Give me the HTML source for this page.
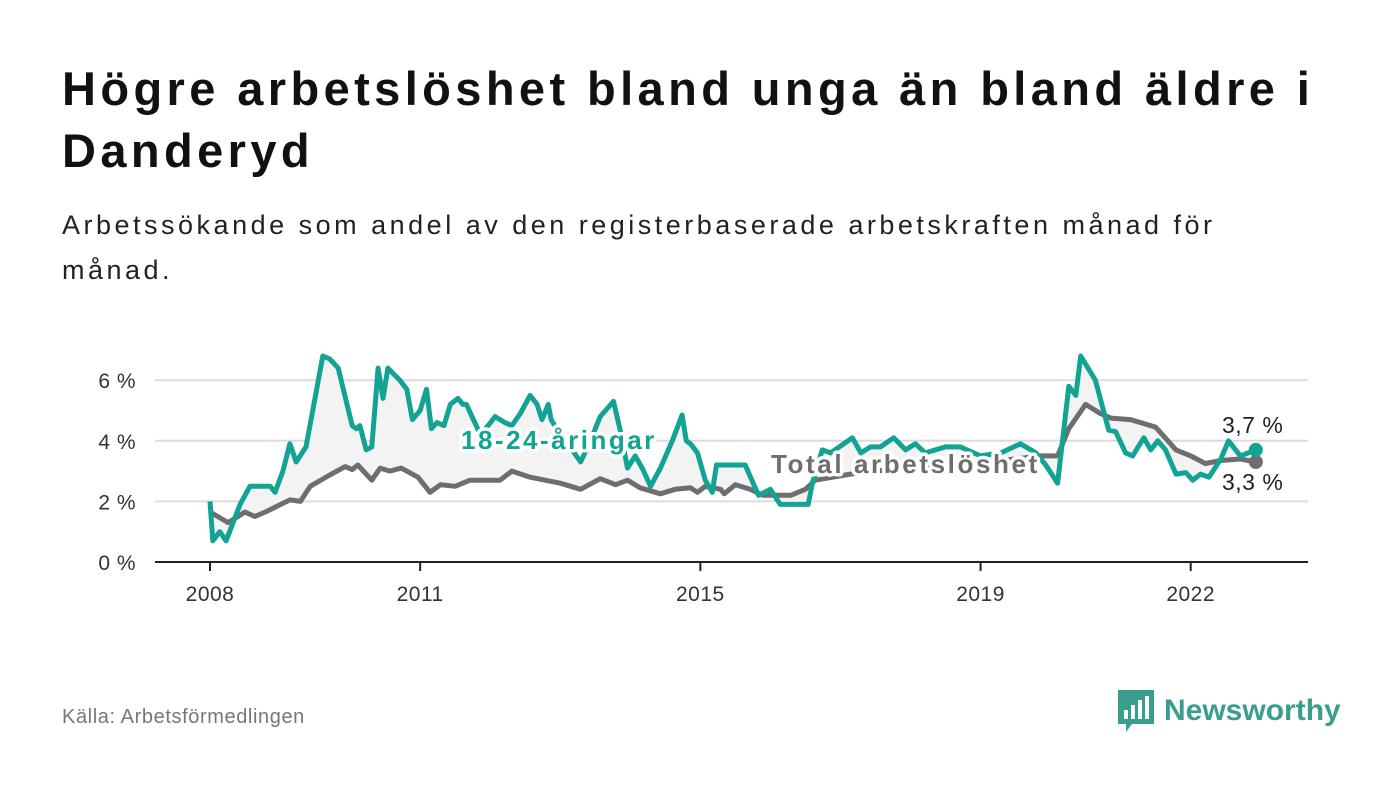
<!DOCTYPE html>
<html><head><meta charset="utf-8"><style>
body{margin:0;width:1400px;height:794px;background:#fff;font-family:"Liberation Sans","DejaVu Sans",sans-serif;overflow:hidden;position:relative}
h1{position:absolute;left:62px;top:58px;margin:0;font-size:47px;line-height:62px;font-weight:bold;color:#111;width:1320px;letter-spacing:4.4px}
.sub{position:absolute;left:62px;top:203px;font-size:27px;line-height:45px;color:#222;width:1250px;letter-spacing:3.5px}
.src{position:absolute;left:62px;top:706px;font-size:20px;color:#777;letter-spacing:0.6px}
.logo{position:absolute;left:1118px;top:690px;display:flex;align-items:center;gap:10px;color:#3a9e8f;font-size:30px;font-weight:bold}
</style></head><body>
<h1>Högre arbetslöshet bland unga än bland äldre i Danderyd</h1>
<div class="sub">Arbetssökande som andel av den registerbaserade arbetskraften månad för månad.</div>
<svg id="chart" width="1400" height="794" style="position:absolute;left:0;top:0"></svg>
<div class="src">Källa: Arbetsförmedlingen</div>
<div class="logo"><svg width="36" height="42" viewBox="0 0 36 42"><path d="M0 0h36v34H14l-6 8v-8H0z" fill="#3a9e8f"/><rect x="6" y="20" width="4" height="9" fill="#fff"/><rect x="13" y="15" width="4" height="14" fill="#fff"/><rect x="20" y="10" width="4" height="19" fill="#fff"/><rect x="27" y="6" width="4" height="23" fill="#fff"/></svg><span>Newsworthy</span></div>
<script>
const youthT=[0,.04,.14,.23,.43,.57,.86,.93,1.04,1.14,1.23,1.37,1.61,1.71,1.83,2.03,2.09,2.14,2.23,2.31,2.4,2.47,2.54,2.71,2.81,2.89,3.0,3.09,3.16,3.24,3.34,3.43,3.54,3.61,3.66,3.76,3.86,3.97,4.07,4.21,4.31,4.43,4.57,4.67,4.74,4.83,4.87,5.0,5.14,5.29,5.43,5.57,5.76,5.86,5.96,6.07,6.17,6.29,6.43,6.6,6.74,6.8,6.86,6.96,7.07,7.17,7.23,7.64,7.83,8.0,8.14,8.54,8.6,8.74,8.86,9.17,9.29,9.43,9.57,9.76,9.93,10.07,10.21,10.5,10.71,11.0,11.29,11.57,11.79,11.93,12.1,12.26,12.36,12.43,12.64,12.83,12.93,13.07,13.17,13.33,13.43,13.53,13.64,13.79,13.93,14.03,14.14,14.26,14.43,14.54,14.71,14.93];
const youthV=[2.0,0.7,1.0,0.7,1.9,2.5,2.5,2.3,3.0,3.9,3.3,3.8,6.8,6.7,6.4,4.5,4.4,4.5,3.7,3.8,6.4,5.4,6.4,6.0,5.7,4.7,5.0,5.7,4.4,4.6,4.5,5.2,5.4,5.2,5.2,4.7,4.2,4.5,4.8,4.6,4.5,4.9,5.5,5.2,4.7,5.2,4.7,4.2,3.8,3.3,4.0,4.8,5.3,4.3,3.1,3.5,3.1,2.5,3.1,4.0,4.85,4.0,3.9,3.6,2.7,2.3,3.2,3.2,2.2,2.4,1.9,1.9,2.6,3.7,3.6,4.1,3.6,3.8,3.8,4.1,3.7,3.9,3.6,3.8,3.8,3.5,3.6,3.9,3.6,3.2,2.6,5.8,5.5,6.8,6.0,4.35,4.3,3.6,3.5,4.1,3.7,4.0,3.7,2.9,2.95,2.7,2.9,2.8,3.4,4.0,3.5,3.7];
const totalT=[0,.26,.5,.64,.79,1.14,1.29,1.43,1.71,1.93,2.03,2.11,2.31,2.43,2.57,2.73,2.97,3.14,3.29,3.5,3.71,4.14,4.31,4.57,5.0,5.29,5.57,5.79,5.96,6.14,6.43,6.64,6.86,6.96,7.07,7.29,7.34,7.5,7.71,7.89,8.29,8.5,8.64,9.14,9.5,10.0,10.5,11.0,11.5,11.86,12.1,12.26,12.5,12.71,12.86,13.14,13.5,13.79,14.0,14.21,14.43,14.71,14.93];
const totalV=[1.65,1.3,1.65,1.5,1.65,2.05,2.0,2.5,2.87,3.15,3.05,3.2,2.7,3.1,3.0,3.1,2.8,2.3,2.55,2.5,2.7,2.7,3.0,2.8,2.6,2.4,2.75,2.55,2.7,2.45,2.25,2.4,2.45,2.3,2.5,2.4,2.25,2.55,2.4,2.2,2.2,2.4,2.7,2.9,3.0,3.1,3.2,3.3,3.4,3.5,3.5,4.4,5.2,4.9,4.75,4.7,4.45,3.7,3.5,3.25,3.35,3.4,3.3];
const yTicks=[0,2,4,6];
const yTickLabels=["0 %","2 %","4 %","6 %"];
const xTicks=[2008,2011,2015,2019,2022];
const NS="http://www.w3.org/2000/svg";
const svg=document.getElementById('chart');
const X=t=>210+t*70.05;
const Xy=yr=>X(yr-2008);
const Y=v=>562-v*30.3;
function mk(tag,attrs,parent){const e=document.createElementNS(NS,tag);for(const k in attrs)e.setAttribute(k,attrs[k]);(parent||svg).appendChild(e);return e;}
yTicks.forEach((v,i)=>{
 if(v>0){const g=mk('line',{x1:155,x2:1308,y1:Y(v),y2:Y(v),stroke:'#dcdcdc','stroke-width':2});
 
 }
 const t=mk('text',{x:136,y:Y(v)+8,'text-anchor':'end','font-size':21,fill:'#333','letter-spacing':0.5});t.textContent=yTickLabels[i];
 
 
});
const ax=mk('line',{x1:155,x2:1308,y1:562,y2:562,stroke:'#222','stroke-width':2});


xTicks.forEach(yr=>{
 mk('line',{x1:Xy(yr),x2:Xy(yr),y1:562,y2:571,stroke:'#222','stroke-width':2});
 const t=mk('text',{x:Xy(yr),y:601,'text-anchor':'middle','font-size':21,fill:'#333','letter-spacing':0.5});t.textContent=yr;
 
 
});
const pts=(T,V)=>T.map((t,i)=>X(t).toFixed(1)+','+Y(V[i]).toFixed(1));
const area=mk('polygon',{points:pts(youthT,youthV).concat(pts(totalT,totalV).reverse()).join(' '),fill:'#f3f3f3'});


const lt=mk('polyline',{points:pts(totalT,totalV).join(' '),fill:'none',stroke:'#6e6e70','stroke-width':5,'stroke-linejoin':'round'});


const ly=mk('polyline',{points:pts(youthT,youthV).join(' '),fill:'none',stroke:'#12a394','stroke-width':5,'stroke-linejoin':'round'});


const n=totalT.length-1,m=youthT.length-1;
const d1=mk('circle',{cx:X(totalT[n]),cy:Y(totalV[n]),r:7,fill:'#6e6e70'});


const d2=mk('circle',{cx:X(youthT[m]),cy:Y(youthV[m]),r:7,fill:'#12a394'});


function lbl(txt,x,y,col,w,name,ls){const t=mk('text',{x:x,y:y,'font-size':w?26:23,'font-weight':w?'bold':'normal',fill:col,stroke:'#fff','stroke-width':7,'paint-order':'stroke','stroke-linejoin':'round','letter-spacing':ls||0});t.textContent=txt;
 
 }
lbl('18-24-åringar',461,449,'#12a394',1,'youth-series-label',2.5);
lbl('Total arbetslöshet',771,473,'#6e6e70',1,'total-series-label',2.6);
lbl(String(youthV[m]).replace('.',',')+' %',1222,433,'#222',0,'youth-end-value',0.5);
lbl(String(totalV[n]).replace('.',',')+' %',1222,490,'#222',0,'total-end-value',0.5);
</script>
</body></html>
